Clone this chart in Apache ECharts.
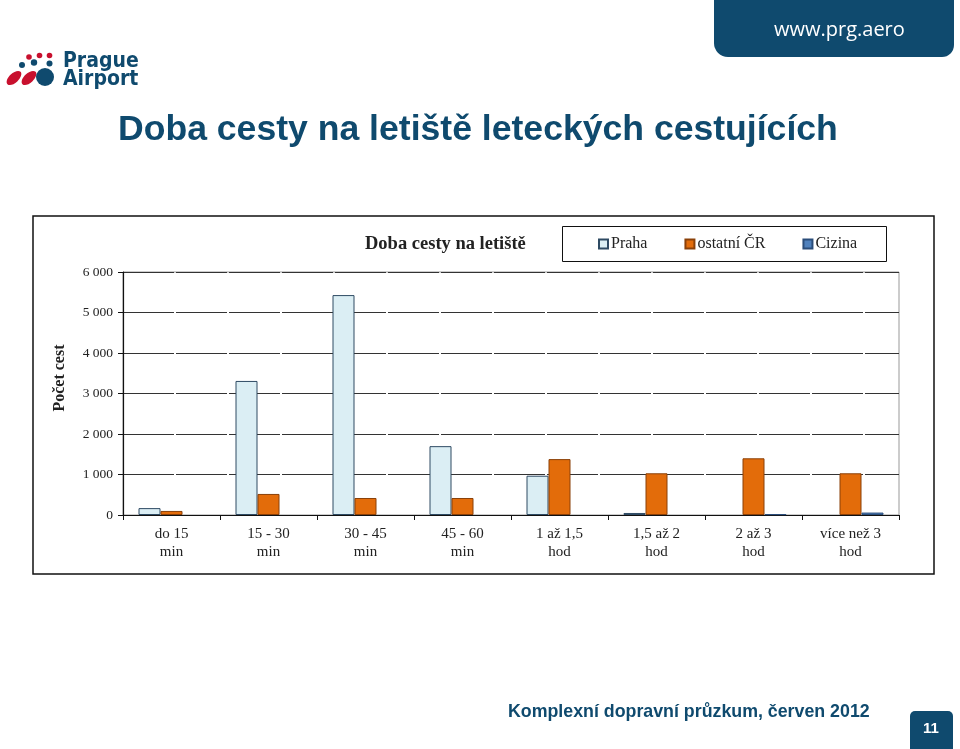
<!DOCTYPE html>
<html>
<head>
<meta charset="utf-8">
<script src="https://cdn.jsdelivr.net/npm/echarts@6/dist/echarts.min.js"></script>
<style>
html,body{margin:0;padding:0;background:#fff;}
#c{width:960px;height:749px;}
</style>
</head>
<body>
<div id="c"></div>
<script>
var categories = ['do 15\nmin', '15 - 30\nmin', '30 - 45\nmin', '45 - 60\nmin', '1 až 1,5\nhod', '1,5 až 2\nhod', '2 až 3\nhod', 'více než 3\nhod'];
var praha = [170, 3310, 5430, 1700, 970, 50, 0, 0];
var ostatniCR = [100, 520, 420, 420, 1380, 1030, 1400, 1030];
var cizina = [0, 0, 0, 0, 0, 0, 20, 60];
var seriesNames = ['Praha', 'ostatní ČR', 'Cizina'];
var yTicks = [0, 1000, 2000, 3000, 4000, 5000, 6000];

var blue = '#0f4a6e';
var serif = '"Liberation Serif","Times New Roman",serif';
var sans = '"Liberation Sans",Arial,sans-serif';

var chart = echarts.init(document.getElementById('c'), null, {renderer: 'canvas'});

function fmt(v) {
  var s = String(v);
  if (s.length > 3) s = s.slice(0, s.length - 3) + ' ' + s.slice(s.length - 3);
  return s;
}
function hideZero(arr) { return arr.map(function (v) { return v === 0 ? '-' : v; }); }

var option = {
  animation: false,
  backgroundColor: '#fff',
  graphic: [
    {type: 'rect', shape: {x: 33, y: 216, width: 901, height: 358}, style: {fill: 'none', stroke: '#111', lineWidth: 1.5}, z: 0},
    {type: 'rect', shape: {x: 562.5, y: 226.5, width: 324, height: 35}, style: {fill: 'none', stroke: '#111', lineWidth: 1}, z: 0},
    {type: 'text', left: 365, top: 235, style: {text: 'Doba cesty na letiště', font: 'bold 18.5px ' + serif, fill: '#222'}},
    {type: 'text', x: 60, y: 378, rotation: Math.PI / 2, style: {text: 'Počet cest', font: 'bold 16px ' + serif, fill: '#222', textAlign: 'center', textVerticalAlign: 'middle'}},
    {type: 'text', left: 118, top: 112, style: {text: 'Doba cesty na letiště leteckých cestujících', font: 'bold 35.6px ' + sans, fill: blue}},
    {type: 'rect', shape: {x: 714, y: -10, width: 240, height: 67, r: [0, 0, 12, 14]}, style: {fill: blue}},
    {type: 'text', left: 774, top: 20, style: {text: 'www.prg.aero', font: '20px "Open Sans",sans-serif', fill: '#fff'}},
    {type: 'text', left: 508, top: 703, style: {text: 'Komplexní dopravní průzkum, červen 2012', font: 'bold 17.8px ' + sans, fill: blue}},
    {type: 'rect', shape: {x: 910, y: 711, width: 43, height: 45, r: [5, 5, 0, 0]}, style: {fill: blue}},
    {type: 'text', left: 923, top: 721, style: {text: '11', font: 'bold 15px ' + sans, fill: '#fff'}},
    {type: 'text', left: 63, top: 51, style: {text: 'Prague', font: 'bold 21px "DejaVu Sans Condensed","DejaVu Sans",sans-serif', fill: blue}},
    {type: 'text', left: 63, top: 69, style: {text: 'Airport', font: 'bold 21px "DejaVu Sans Condensed","DejaVu Sans",sans-serif', fill: blue}},
    {type: 'ellipse', shape: {cx: 14, cy: 78, rx: 9, ry: 4.8}, rotation: 0.75, originX: 14, originY: 78, style: {fill: '#c8102e'}},
    {type: 'ellipse', shape: {cx: 29, cy: 78, rx: 9, ry: 4.8}, rotation: 0.75, originX: 29, originY: 78, style: {fill: '#c8102e'}},
    {type: 'circle', shape: {cx: 29, cy: 57, r: 2.8}, style: {fill: '#c8102e'}},
    {type: 'circle', shape: {cx: 39.5, cy: 55.5, r: 2.8}, style: {fill: '#c8102e'}},
    {type: 'circle', shape: {cx: 49.5, cy: 55.5, r: 2.8}, style: {fill: '#c8102e'}},
    {type: 'circle', shape: {cx: 22, cy: 65, r: 3}, style: {fill: blue}},
    {type: 'circle', shape: {cx: 34, cy: 62.5, r: 3.2}, style: {fill: blue}},
    {type: 'circle', shape: {cx: 49.5, cy: 63.5, r: 3}, style: {fill: blue}},
    {type: 'circle', shape: {cx: 45, cy: 77, r: 9}, style: {fill: blue}}
  ],
  legend: {
    left: 598,
    top: 236,
    itemWidth: 9,
    itemHeight: 9,
    itemGap: 37,
    icon: 'rect',
    padding: 0,
    textStyle: {fontFamily: serif, fontSize: 16, color: '#222', padding: [0, 0, 0, -2]},
    data: seriesNames
  },
  grid: {
    left: 123,
    right: 61,
    top: 272,
    bottom: 234,
    show: true,
    borderColor: '#999',
    borderWidth: 1,
    containLabel: false
  },
  xAxis: {
    type: 'category',
    data: categories,
    axisLine: {lineStyle: {color: '#111', width: 1.2}},
    axisTick: {show: true, alignWithLabel: false, length: 5, inside: false, lineStyle: {color: '#111'}},
    axisLabel: {fontFamily: serif, fontSize: 15, color: '#222', lineHeight: 18, margin: 10, interval: 0},
    splitLine: {show: false}
  },
  yAxis: {
    type: 'value',
    min: 0,
    max: 6000,
    interval: 1000,
    axisLine: {show: true, lineStyle: {color: '#111', width: 1.2}},
    axisTick: {show: true, length: 5, lineStyle: {color: '#111'}},
    axisLabel: {fontFamily: serif, fontSize: 13.5, color: '#222', margin: 10, formatter: function (v) { return yTicks.indexOf(v) >= 0 ? fmt(v) : ''; }},
    splitLine: {show: true, lineStyle: {color: '#333', width: 1.2, type: [51, 2]}}
  },
  series: [
    {name: seriesNames[0], type: 'bar', data: hideZero(praha), barWidth: 22, barGap: '0%',
      itemStyle: {color: '#dbeef4', borderColor: '#2e4a63', borderWidth: 1}},
    {name: seriesNames[1], type: 'bar', data: hideZero(ostatniCR), barWidth: 22, barGap: '0%',
      itemStyle: {color: '#e36c0a', borderColor: '#8a4008', borderWidth: 1}},
    {name: seriesNames[2], type: 'bar', data: hideZero(cizina), barWidth: 22, barGap: '0%',
      itemStyle: {color: '#4f81bd', borderColor: '#2a4d7a', borderWidth: 1}}
  ]
};
chart.setOption(option);
</script>
</body>
</html>
